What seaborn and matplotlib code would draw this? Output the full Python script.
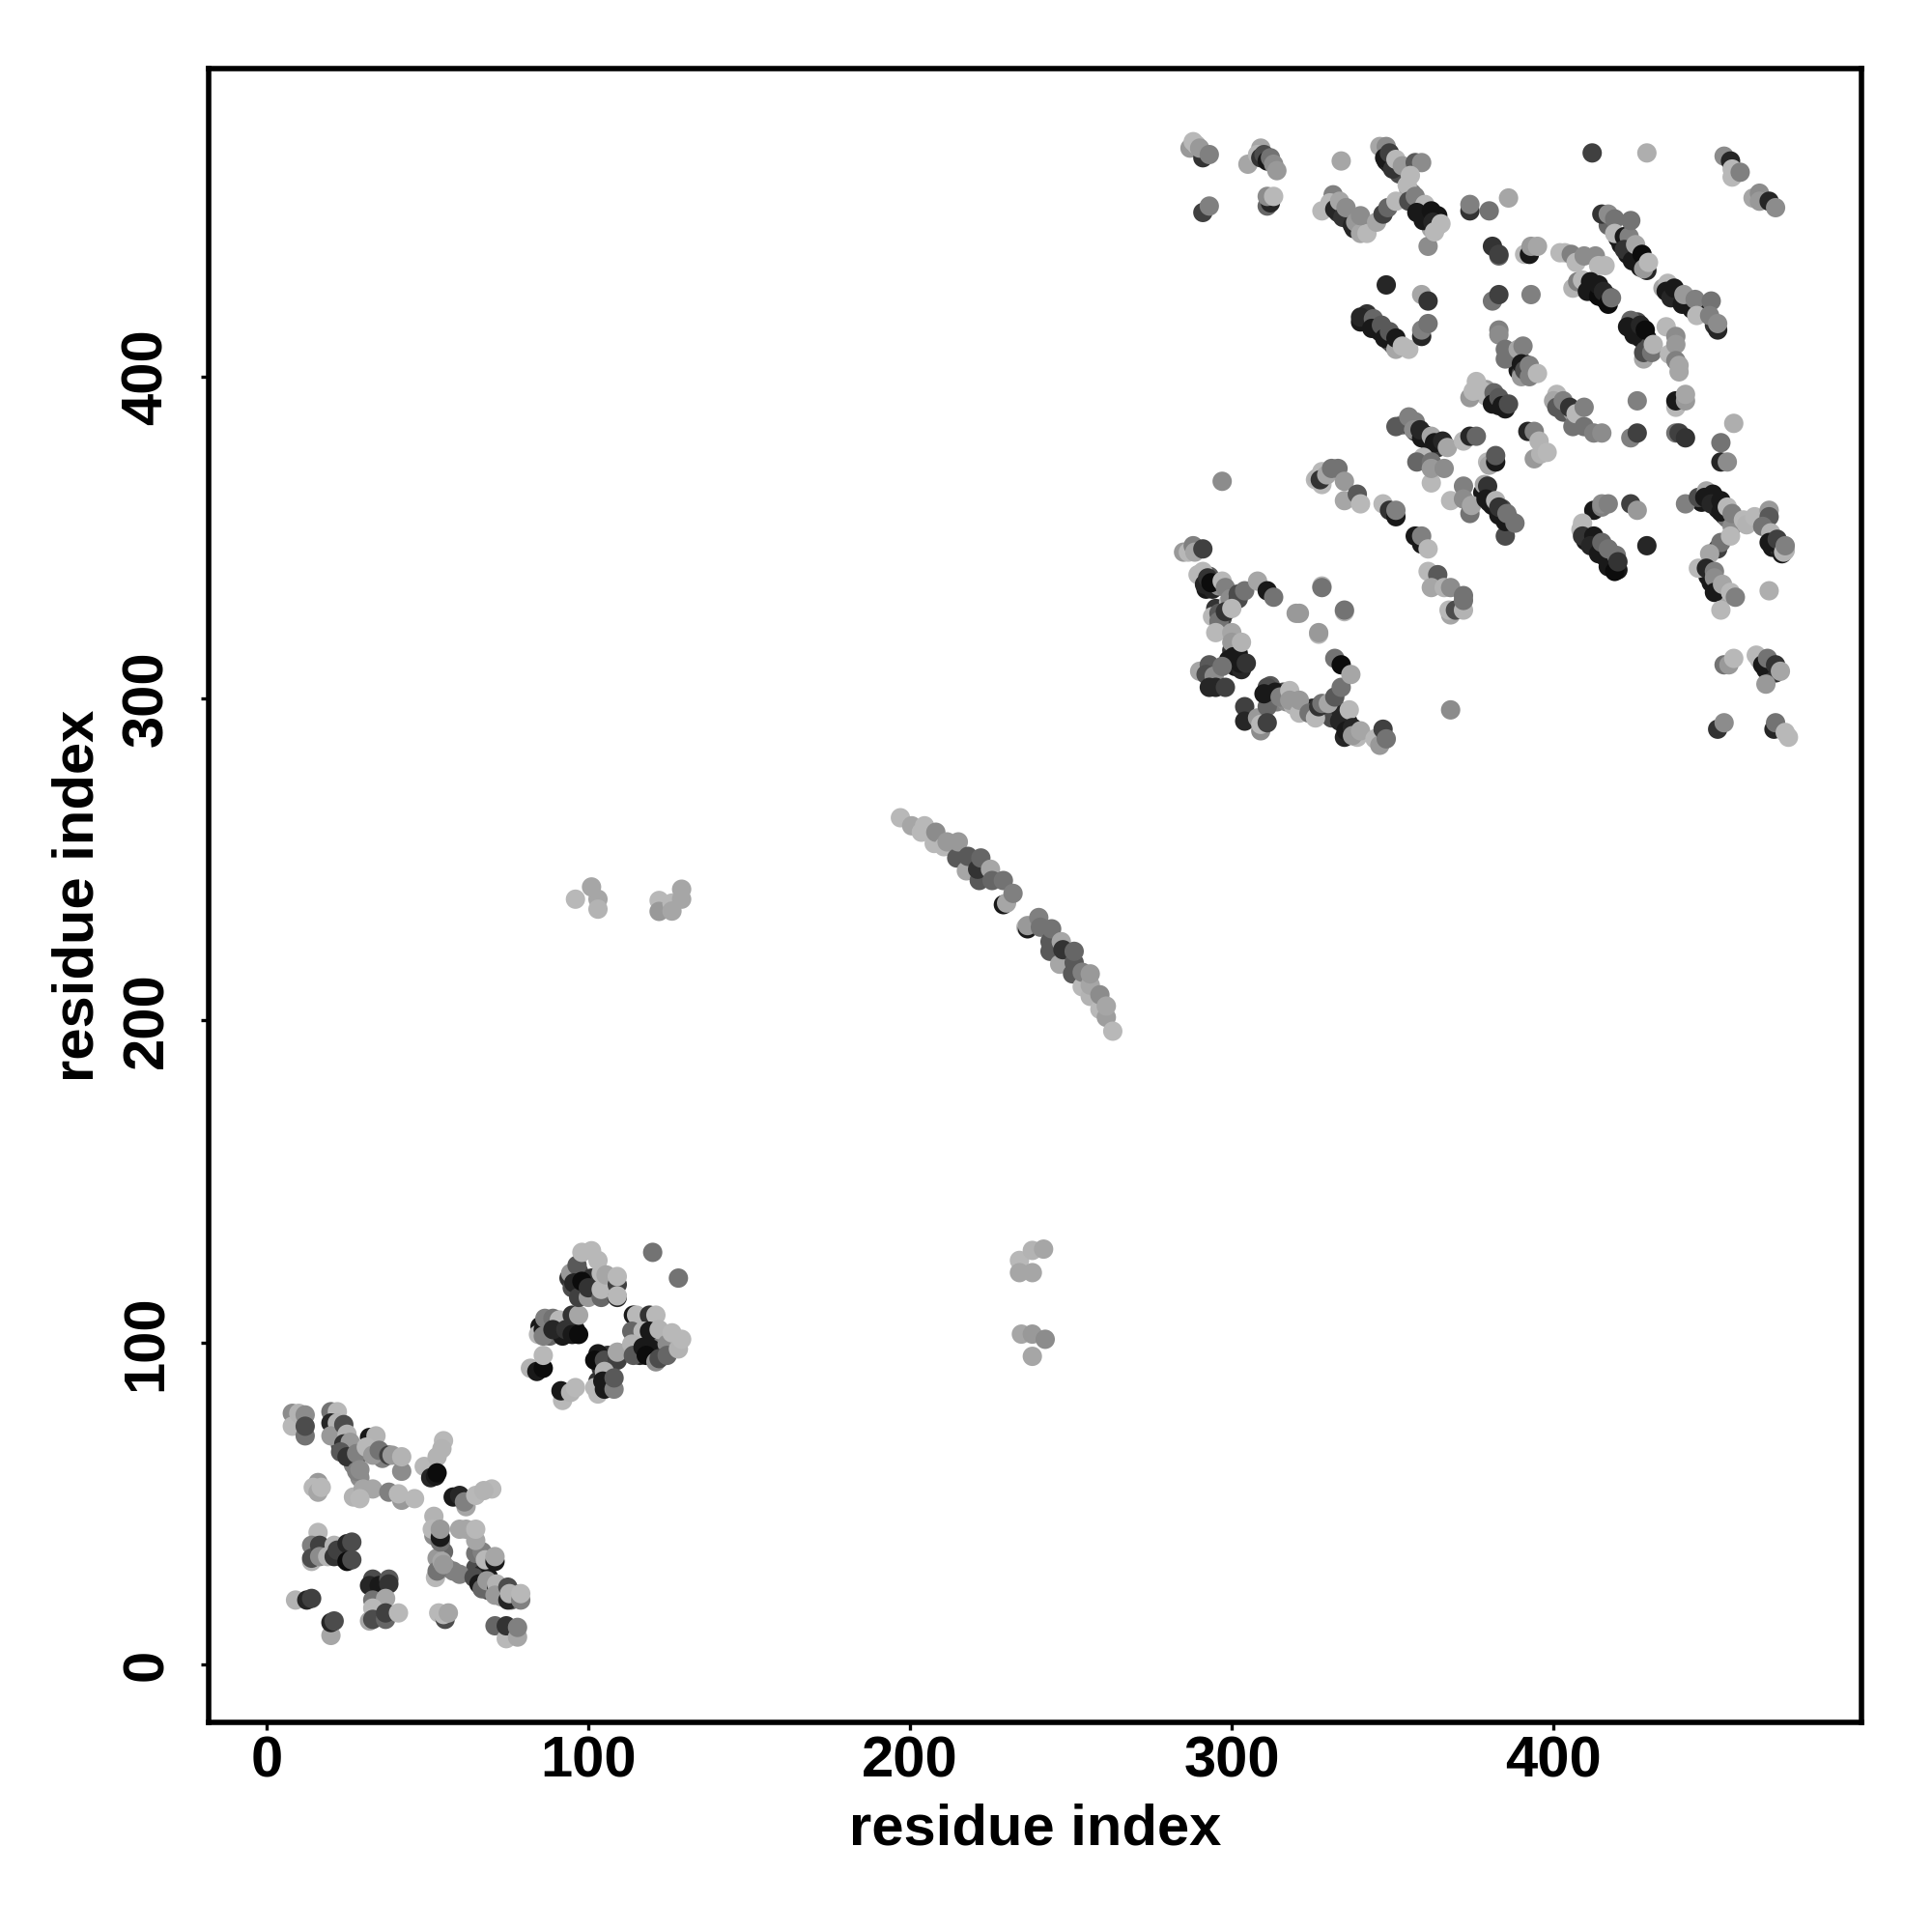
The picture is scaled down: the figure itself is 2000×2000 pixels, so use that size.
import pandas as pd
import seaborn as sns
import matplotlib.pyplot as plt

# contacts: (residue x, residue y, grey level)
# these sit underneath, they thicken the dense bands
block_under = [
    (341,418,.1),(345,416,.1),(346,414,.1),(348,413,.1),(349,411,.1),(350,410,.3),(352,410,.65),
    (408,428,.6),(412,428,.1),(413,426,.1),(416,424,.1),(417,425,.3),
    (424,415,.1),(426,414,.1),(427,412,.1),(429,412,.1),(429,409,.3),(426,417,.3),
    (436,427,.1),(438,425,.1),(439,424,.2),(441,423,.1),(443,421,.1),(446,420,.3),(447,420,.1),(450,416,.2),
    (410,349,.1),(411,350,.3),(413,347,.1),(414,348,.2),(416,344,.1),(418,342,.1),(418,344,.4),(420,340,.1),
    (446,361,.1),(448,362,.2),(451,359,.1),(453,357,.2),(454,356,.45),
    (468,347,.1),(470,347,.2),(471,345,.1),(472,346,.7),
    (448,338,.1),(449,336,.1),(451,335,.1),(452,333,.2),(453,332,.65),
    (466,309,.1),(467,311,.3),(468,309,.1),(469,308,.2),(464,312,.7),
    (348,467,.1),(349,466,.15),(352,463,.3),(355,458,.6),(356,457,.5),(358,454,.1),(359,451,.1),(361,449,.1),(362,446,.65),(364,447,.15),
    (417,447,.4),(420,443,.1),(421,441,.1),(423,438,.1),(425,437,.05),(426,436,.1),(427,434,.1),(429,433,.15),
    (333,451,.2),(335,450,.1),(336,449,.2),(338,446,.15),(340,447,.5),
    (379,396,.6),(379,394,.72),(382,393,.2),(383,391,.1),(385,390,.1),
    (389,402,.1),(390,401,.3),(391,404,.2),(393,402,.5),(390,400,.6),
    (402,391,.6),(404,389,.2),(403,389,.35),(406,389,.6),
    (353,385,.5),(355,385,.2),(357,383,.1),(360,382,.1),(361,380,.1),(364,378,.2),(366,379,.1),
    (378,364,.1),(380,361,.1),(381,360,.1),(383,357,.1),(384,359,.3),(386,356,.1),
    (292,334,.1),(293,338,.35),(294,334,.15),(296,335,.55),
    (295,328,.2),(297,325,.3),(299,330,.7),(300,315,.2),(299,312,.1),(301,310,.1),(302,314,.1),(303,309,.15),
    (312,304,.35),(312,300,.1),(314,299,.5),(316,302,.3),(317,299,.55),(319,298,.7),
    (325,297,.15),(326,296,.3),(329,296,.2),(331,294,.3),(334,296,.15),(335,293,.1),(336,293,.1),(337,290,.15),(339,288,.72),(335,288,.15),
    (65,30,.3),(67,28,.15),(69,27,.1),(69,23,.3),(70,25,.1),(73,23,.15),(73,21,.6),(76,20,.4),(77,22,.5),
    (35,20,.1),(34,22,.05),(34,17,.2),(36,19,.3),
    (23,72,.15),(23,68,.3),(26,66,.15),(30,66,.3),(32,68,.1),(33,69,.6),(36,64,.5),(27,62,.5),(29,58,.55),
    (52,40,.55),(55,35,.4),(53,33,.6),(56,30,.6),(58,29,.5),
    (19,36,.2),(18,34,.15),(23,34,.1),(24,33,.1),
    (85,105,.1),(88,102,.4),(91,104,.15),(92,102,.1),(94,105,.2),(96,104,.1),
    (94,120,.2),(95,117,.3),(97,122,.3),(99,116,.1),(101,120,.2),(102,115,.5),(106,116,.3),(107,118,.15),(108,116,.5),
    (104,92,.2),(106,96,.2),(106,93,.35),(107,87,.45),(103,88,.2),
    (115,101,.2),(116,96,.15),(118,100,.15),(120,101,.1),(122,97,.1),(123,100,.5),(125,100,.6),(127,99,.65),
]

block_low = [
    (8,78,.55),(8,74,.72),(10,78,.7),(12,77.5,.55),(12,71,.45),(12,74,.3),
    (20,78.5,.45),(22,78.5,.72),(20,75,.15),(22,75,.7),(20,71,.6),(24,74.5,.3),(25,71.5,.7),(24,68.5,.2),(26,69,.6),
    (23,66,.35),(25,64.5,.2),(28,65.5,.5),(32,70.5,.1),(34,71,.7),(31,67.5,.72),(33,65,.6),(35,66.5,.45),(38,65,.25),(39,65,.6),(42,60,.55),(42,64.5,.7),
    (28,60,.5),(29,60.5,.55),
    (16,56.5,.6),(14.5,55,.72),(16,53.5,.65),(17,55,.72),
    (27,52,.7),(30,54.5,.65),(33,54.5,.65),(29,51.5,.72),(38,53.5,.5),(42,51,.6),(41,53,.72),(46,51.5,.72),
    (49,61.5,.72),(55,69.5,.72),(54.5,67,.7),(53,64.5,.7),(51,58,.15),(52.5,58.5,.1),(53,59.5,.05),
    (58,52,.1),(60,52.5,.15),(62,49,.65),(61.5,50.5,.5),(65,52.5,.72),(70,54.5,.72),(67.5,54,.7),
    (52,46,.7),(51.5,42,.72),(54,38,.45),(54,39.5,.1),(54,42,.6),(60,42,.65),(62,42,.65),(65,34.5,.45),(67,35,.5),(65,38.5,.65),(65,42,.72),
    (68,32.5,.72),(71,32,.1),(71,33.5,.65),
    (52.5,27,.72),(53,29,.45),(54.5,32,.65),(55,31,.6),(60,28,.5),
    (64.5,27,.3),(66,25,.1),(67,23.5,.4),(68.5,26,.6),(71.5,24,.15),(71.5,25,.7),(71,21.5,.6),(75,24,.3),(75,20,.15),(75.5,22,.7),(79,20,.5),(79,22,.72),
    (71,12,.4),(74.5,8,.72),(74.5,12,.2),(78,8.5,.65),(78,11.5,.5),
    (16,41,.72),(14,32,.7),(14,37,.5),(14,33,.3),(16.5,37,.25),(16.5,33.5,.55),(21,37,.7),(19,33.5,.7),(21,33.5,.2),(22,35.5,.25),
    (25,37.5,.15),(26.5,38,.3),(25,32,.05),(26.5,32.5,.3),
    (9,20,.7),(12.5,20,.15),(14,20.5,.25),
    (20,9,.65),(20,13,.15),(21,13.5,.3),
    (33,26.5,.3),(32,24.5,.15),(35,24.5,.1),(38,26.5,.35),(38,25,.2),(33,20,.45),(37,20.5,.65),(33,17.5,.72),(32,13.5,.65),(33,14,.3),(37,14,.4),(37,16,.25),(41,16,.72),
    (53.5,16,.72),(55.5,14,.3),(55,15.5,.72),(56.5,16,.65),
]

block_mid = [
    (84.5,102.5,.72),(86,104,.1),(86,102,.5),(86.5,107.5,.5),(89,107.5,.45),(91,107,.72),(89,104,.15),(93,104,.2),(95,102.5,.1),(97,102.5,.05),(95,108.5,.2),(97,108.5,.65),
    (82,92,.7),(84,91,.1),(86,92,.05),(86,96,.72),
    (92,82,.72),(91.5,85,.1),(94.5,84.5,.7),(96,86,.72),
    (94.5,121.5,.6),(96.5,124,.35),(95.5,118.5,.15),(97,114,.25),(98,119,.05),(100,114,.6),(100,117,.2),(98,128,.72),(101,128.5,.72),(103,125.5,.72),
    (104,114,.4),(104,118.5,.2),(104,116.5,.72),(104,121.5,.72),(105.5,121,.65),(109,118,.25),(109,120.5,.72),(109,114,.15),(109,114.5,.72),
    (120,128,.45),(128,120,.45),
    (103,96.5,.1),(102,94.5,.05),(105,94.5,.3),(109,94.5,.25),(109,97,.65),
    (102,86,.72),(103,84,.72),(105,85.5,.1),(105,91,.7),(104.5,88,.1),(108,85.5,.5),(108,89,.35),
    (114,108.5,.1),(115,108.5,.72),(119,108.5,.2),(121,108.5,.72),(113.5,103.5,.4),(117,103.5,.72),(119,103.5,.1),(122,104,.7),
    (113.5,99.5,.7),(114,96,.35),(117,98.5,.1),(119.5,98,.1),(118,96,.05),(124.5,99.5,.55),(126,103,.72),(121,94,.55),(122,95,.3),(124.5,96,.4),(128,98,.7),(129,101,.72),
]

block_off = [
    (96,237.7,.72),(101,241.5,.65),(103,237.7,.65),(103,234.6,.7),(122,237.3,.72),(122,233.9,.6),(126,236.5,.72),(126,234,.65),(129,240.8,.65),(129,237.7,.65),
    (234,125.5,.72),(238,128.6,.7),(241.5,129,.65),(234,121.7,.65),(238,121.7,.65),(234.6,102.6,.65),(238,102.6,.6),(242,101,.55),(238,95.7,.65),
]

block_arc = [
    (197,263,.72),(200.5,260.5,.65),(203.5,258.5,.72),(204.5,260.5,.72),(207.5,255,.72),(208,258.5,.55),(210.5,254,.72),(211.5,255.5,.6),(214.5,250.5,.35),(215,255.5,.6),
    (217.5,246.5,.65),(218,251,.35),(221.5,243.5,.35),(221,247,.2),(222,250.5,.4),(225,247,.65),(225.5,243.5,.4),(229,236,.1),(229,243.5,.45),(230,236.5,.65),(232,239.5,.5),
    (236,229,.72),(236.5,228.5,.1),(236.5,229.5,.6),(240,232,.5),(240.5,229,.45),(243.5,221.5,.35),(243.5,224.5,.35),(244,228.5,.45),(246.5,217.5,.65),(247,224.5,.65),(247.5,222,.2),
    (250.5,214.5,.35),(251,218,.35),(251,221.5,.4),(253.5,210.5,.72),(253.5,215,.5),(256,207.5,.7),(256,211,.65),(256,214.5,.6),(259,203.5,.72),(259,208,.55),(261,201,.62),(261,204.5,.65),(263,196.7,.72),
]

block_top = [
    (287,471,.6),(288,473,.72),(289,472,.72),(291,468,.2),(290,471,.6),(293,469,.5),
    (291,451,.25),(293,453,.5),
    (305,466,.65),(309,471,.65),(308,469,.72),(309,468,.2),(310,469,.3),(311,467,.1),(312,468,.45),(313,466,.55),(314,464,.6),
    (311,453,.4),(312,454,.15),(311,456,.55),(313,456,.72),
    (334,467,.65),(328,451.5,.72),(331.5,456.5,.5),(330.5,454,.72),(332,452,.15),(333.5,454.5,.65),(334.5,449.5,.2),(335.5,452.5,.55),(337.5,447,.15),(338.5,448,.6),(340,444.5,.65),(342,444.5,.72),(340,450,.55),
    (345,448,.65),(347,450.5,.25),(348.5,452.5,.4),(351,454.5,.72),
    (346,471.5,.65),(348,471.5,.55),(347.5,468,.1),(349,469.5,.25),(350,464.5,.2),(351,467.5,.72),(353,465.5,.6),(357,466.5,.35),(359,466.5,.55),(354.5,459.5,.72),(355.5,462.5,.72),
    (355,454.5,.3),(357,456,.5),(360,453.5,.72),(357.5,451,.1),(359.5,448.5,.1),(361,440.5,.55),(362,451.5,.08),(364,450,.08),(362.5,448,.15),(363,445,.72),(365,447.5,.72),
    (374,451.5,.2),(374,453.5,.5),(380,451.5,.45),(386,455.5,.65),
    (381,440.5,.2),(383,437.5,.4),(383,438,.25),(391,438,.72),(392.5,438,.1),(393,440.5,.6),(395,440.5,.65),
    (348,428.5,.15),(359,425.5,.65),(361,423.5,.2),(381,423.5,.45),(383,425.5,.25),(393,425.5,.5),
    (340,417,.1),(342,419.5,.2),(340,418.5,.15),(344,418,.4),(343.5,415,.1),(346.5,416,.35),(347.5,412,.1),(349,414,.35),(351,408.5,.65),(351,412,.1),(353,409.5,.72),(355,408.5,.72),
    (359,412.5,.15),(359,414.5,.5),(361,416.5,.45),
    (383,414.5,.5),(383,413,.55),(385,405.5,.45),(385,408.5,.45),(389,408.5,.65),(390.5,409.5,.5),(390,404,.1),(391,402,.3),(392.5,400,.5),(392.5,403.5,.5),(395,401,.72),
    (376,398.5,.72),(374,393.5,.6),(375,395.5,.72),(378,395.5,.72),(381.5,395,.4),(381,391.5,.1),(383,393.5,.35),(384,391,.1),(386,391.5,.3),
    (401,394.5,.72),(400,392.5,.65),(401,390.5,.35),(403,392.5,.5),(405,390.5,.2),(406,384.5,.45),(407,388.5,.72),(409.5,384.5,.45),(409.5,390.5,.5),(412.5,382.5,.5),(415,382.5,.55),
    (412,469.5,.25),(429,469.5,.68),
    (453,468.5,.55),(455,467,.15),(455.5,462,.72),(455.5,464.5,.72),(458,463.5,.5),
    (462,455.5,.65),(464,457,.55),(464,454.5,.6),(467,454.5,.15),(469,452.5,.55),
    (415,450.5,.2),(417,450.5,.55),(419,449,.45),(419,444.5,.72),(422,443.5,.1),(423.5,443.5,.5),(424,448.5,.45),(422,439.5,.2),(424.5,436,.1),(425.5,441,.65),(427.5,438,.05),(428,433.5,.6),(429.5,435.5,.72),
    (402,438.5,.72),(403.5,438.5,.72),(405.5,438,.5),(407,435.5,.72),(409.5,437.5,.55),(413,437.5,.55),(414,434.5,.72),(416,434.5,.72),
    (406,427.5,.7),(407.5,429.5,.5),(409,430,.72),(410.5,426.5,.1),(411.5,429.5,.1),(414,425,.05),(414,428.5,.1),(415.5,426.5,.15),(417,422.5,.05),(418,424.5,.45),
    (434,427.5,.65),(435.5,429,.72),(435,426.5,.1),(436.5,424.5,.15),(437.5,427.5,.1),(440,422.5,.1),(440.5,425.5,.6),(444.5,421,.1),(444,424,.5),(444.5,419,.72),(449,423.5,.45),(451,414.5,.15),(448.5,419,.5),(451,416.5,.55),
    (424,417.5,.4),(423,415.5,.1),(425,413,.1),(427,416,.15),(428.5,414.5,.05),(428,405.5,.65),(428,407.5,.3),(430.5,407.5,.45),(431,410,.7),
    (435,415.5,.72),(436,407,.72),(438,412.5,.55),(438,410,.6),(438,405,.5),(439,401.5,.65),(439,403.5,.65),
    (426,392.5,.5),(438,390.5,.72),(438,392.5,.1),(441,392.5,.6),(441,394.5,.65),(456,385.5,.68),
    (424,381,.5),(426,382.5,.25),(438,382.5,.45),(439,382.5,.25),(441,381,.2),(452,379.5,.45),(452,373.5,.15),(454,373.5,.55),
]

block_right = [
    (351,384.5,.35),(355,387.5,.5),(357,386,.5),(356.5,383.5,.55),(359,381,.1),(358.5,383.5,.15),(362,381.5,.65),(363,379.5,.1),(365.5,380,.15),(367,378,.65),
    (372,380,.72),(374,381.5,.15),(376,381.5,.4),
    (359.5,375,.72),(357.5,373.5,.4),(362,367,.72),(362,373.5,.45),(362,371.5,.6),(366,371.5,.55),
    (379.5,373.5,.72),(380,372.5,.65),(382,373.5,.1),(382,375.5,.35),
    (392,383,.15),(394,383,.5),(394,374.5,.6),(395.5,380,.7),(396,376,.7),(398,376.5,.72),
    (368,361.5,.72),(372,366,.5),(372,362,.55),(374,357.5,.45),(374.5,360,.65),(378.5,366.5,.65),(379.5,366,.2),(379,362,.1),(382,361.5,.7),(383,359.5,.2),(385,350.5,.3),(385,355,.1),(385.5,357.5,.45),(388,354.5,.45),
    (347,360.5,.72),(349,358.5,.2),(351,356.5,.1),(351,358.5,.5),
    (357,350.5,.1),(359,348,.1),(359,350.5,.5),(361,346.5,.72),
    (361,339.5,.72),(364,338.5,.35),(362,334.5,.65),(366,334.5,.7),(368,334.5,.55),(368,326,.65),(367.5,327.5,.72),(369.5,327.5,.3),(372,327.5,.7),(372,330.5,.45),(372,332,.45),
    (297,367.5,.55),
    (326,368,.72),(326.5,368.5,.7),(328,370.5,.72),(328,366.5,.72),(327.5,368,.2),(329.5,369.5,.65),(331,371.5,.45),(333,371.5,.45),(335,367.5,.6),(335,361.5,.65),(339,363.5,.35),(340,360.5,.72),
    (285,345.5,.6),(286.5,345.5,.72),(288,347.5,.5),(288.5,345.5,.65),(291,346.5,.25),
    (289.5,338.5,.72),(291,339.5,.72),(291.5,335.5,.15),(292.5,337.5,.2),(293.5,336,.05),(297,336.5,.72),(298,334.5,.5),(299.5,331,.55),(302,331,.3),(302,332.5,.3),(304,333.5,.45),(308,336.5,.65),(311,333.5,.1),(313,331.5,.45),
    (294,325.5,.72),(296,326.5,.35),(296,324,.45),(298,327,.2),(300,328,.72),(295,320.5,.72),(300,320.5,.65),(300,317.5,.6),(300.5,313,.1),(302.5,311,.1),(303,317.5,.7),(304.5,311,.2),
    (290,308.5,.65),(293,310.5,.35),(292,307.5,.3),(294.5,307,.55),(297,310,.45),(293,303.5,.15),(295,303.5,.15),(298,303.5,.25),
    (304,297.5,.25),(304,293,.15),(308,294,.6),(309,290,.55),(309,292,.72),(311,297.5,.4),(311,292.5,.25),
    (311,303.5,.3),(310,301.5,.1),(313.5,302,.1),(315,300.5,.5),(318,302.5,.72),(318,299.5,.6),(321,295.5,.72),(321,299.5,.6),
    (324,295.5,.45),(326,294,.72),(327,297.5,.2),(328,298.5,.45),(330,298.5,.65),(332,300.5,.35),(334,303.5,.45),
    (332,312.5,.45),(334,310.5,.05),(337,307.5,.65),
    (333.5,293,.15),(335.5,290,.1),(336.5,296.5,.72),(337.5,291,.15),(337.5,288.5,.6),(340,290,.65),
    (344.5,287.5,.72),(346,285.5,.6),(347,290.5,.25),(348,287.5,.45),
    (368,296.5,.55),
    (328,335,.72),(328,334.5,.45),(335,327,.72),(335,327.5,.45),(320,326.5,.6),(321,326.5,.6),(327,320,.72),(327,320.5,.6),
    (412.5,358.5,.1),(415,359.5,.5),(415,360.5,.55),(417,360.5,.5),(424,360.5,.25),(426,358.5,.6),(429,347.5,.15),
    (409,354.5,.72),(408.5,352.5,.72),(409,350.5,.2),(412.5,350.5,.1),(411.5,347.5,.15),(414,345,.1),(415,348.5,.4),(417,341,.1),(417,346.5,.45),(419,339.5,.05),(419.5,344.5,.45),(420,342.5,.2),
    (441,360.5,.5),(445,362.5,.3),(447.5,364.5,.65),(447,362.5,.1),(449.5,363.5,.1),(449,360.5,.15),(452,361.5,.1),(452,358,.1),(454,359.5,.72),(455.5,353.5,.55),(455.5,357.5,.5),(459,355.5,.72),(460,354,.7),(462.5,356.5,.72),
    (467,358.5,.6),(467,356.5,.35),(465,353.5,.45),(467.5,351.5,.7),(467,348.5,.1),(469.5,349.5,.25),(471.5,345.5,.7),(472,347.5,.5),
    (451,346.5,.25),(452,348.5,.45),(455,350.5,.72),(448.5,345,.65),
    (445,340.5,.72),(447.5,340.5,.15),(450,339.5,.5),(450,337.5,.55),(450,333,.1),(452,327.5,.72),(452.5,335.5,.65),(455,333,.72),(456.5,331.5,.5),(467,333.5,.68),
    (453,310.5,.45),(454.5,310.5,.6),(456,312.5,.72),
    (463,313.5,.72),(466,304.5,.6),(465,310.5,.1),(466.5,312.5,.45),(469,310.5,.2),(470.5,308.5,.65),
    (451,290.5,.2),(453,292.5,.55),(468.5,290.5,.15),(469,292.5,.45),(472,289.5,.72),(473,288,.72),
]

ticks = [0, 100, 200, 300, 400]
axis_label = 'residue index'

contacts = pd.DataFrame(block_under + block_low + block_mid + block_off + block_arc + block_top + block_right,
                        columns=['x', 'y', 'shade'])

sns.set_style('white')
plt.rcParams['font.family'] = ['Liberation Sans', 'DejaVu Sans']
plt.rcParams['text.color'] = 'black'
plt.rcParams['xtick.color'] = 'black'
plt.rcParams['ytick.color'] = 'black'
plt.rcParams['axes.labelcolor'] = 'black'

fig = plt.figure(figsize=(10, 10), dpi=200)
ax = fig.add_axes([0.108, 0.1085, 0.8555, 0.856])

sns.scatterplot(data=contacts, x='x', y='y', hue='shade', palette='gray', hue_norm=(0, 1),
                s=52, linewidth=0, legend=False, ax=ax, clip_on=False)

ax.set_xlim(-18, 495.7)
ax.set_ylim(-18, 495.7)
ax.set_xticks(ticks)
ax.set_yticks(ticks)
ax.set_xticklabels(ticks, fontsize=21.5, fontweight='bold')
ax.set_yticklabels(ticks, fontsize=21.5, fontweight='bold', rotation=90, va='center')
ax.set_xlabel(axis_label, fontsize=21.5, fontweight='bold')
ax.set_ylabel(axis_label, fontsize=21.5, fontweight='bold')
ax.xaxis.set_label_coords(0.5, -0.049)
ax.yaxis.set_label_coords(-0.063, 0.5)
ax.tick_params(axis='x', length=3, width=1.2, bottom=True, pad=2)
ax.tick_params(axis='y', length=3, width=1.2, left=True, pad=10)
for side in ax.spines.values():
    side.set_linewidth(2)
    side.set_color('black')

plt.savefig('out.png', dpi=200)
